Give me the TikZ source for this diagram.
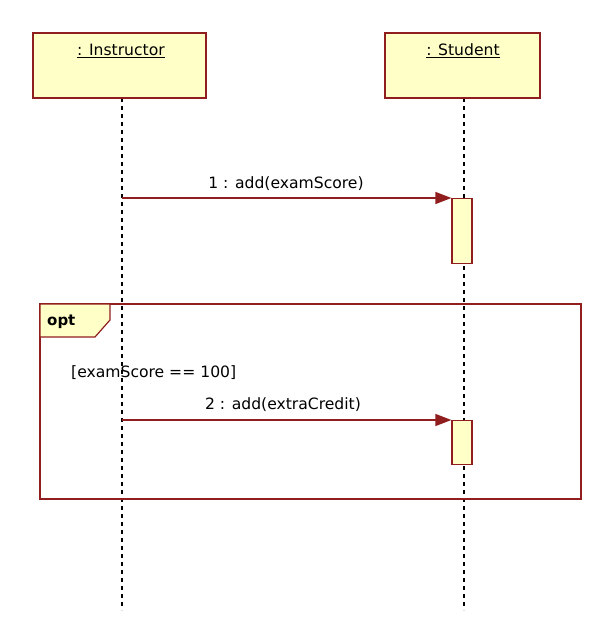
\documentclass[tikz,border=0pt]{standalone}
\usepackage{fontspec}
\setmainfont{DejaVu Sans}
\usetikzlibrary{arrows.meta}
\definecolor{umlred}{RGB}{145,30,30}
\definecolor{umlfill}{RGB}{255,255,200}
\tikzset{
  objbox/.style={draw=umlred, fill=umlfill, line width=1.2pt},
  act/.style={draw=umlred, fill=umlfill, line width=1.2pt},
  life/.style={line width=1.3pt, dash pattern=on 4pt off 4pt, black},
  msg/.style={draw=umlred, line width=1.2pt, -{Triangle[length=16pt,width=12pt]}},
  lbl/.style={font=\fontsize{15.6}{18}\selectfont, inner sep=0pt},
  frame/.style={draw=umlred, line width=1.2pt}
}
\begin{document}
\begin{tikzpicture}[x=1pt,y=-1pt]
\useasboundingbox (0,0) rectangle (614,642);
% lifelines
\coordinate (iend) at (122,610);
\coordinate (send) at (464,610);
\draw[life] (122,98) -- (iend);
\draw[life] (464,98) -- (send);
% objects
\draw[objbox] (33,33) rectangle (206,98);
\node[lbl] (inst) at (121,51) {\underline{: Instructor}};
\draw[objbox] (385,33) rectangle (540,98);
\node[lbl] (stud) at (463,51) {\underline{: Student}};
% opt frame
\draw[frame] (40,304) rectangle (581,499);
\draw[frame, fill=umlfill] (40,304) -- (110,304) -- (110,320) -- (95,337) -- (40,337) -- cycle;
\node[font=\fontsize{15}{18}\selectfont\bfseries, inner sep=0pt, anchor=west] (opt) at (47,322) {opt};
\node[lbl, anchor=west] (guard) at (71,373) {[examScore == 100]};
% activations
\node[act, minimum width=20pt, minimum height=65pt, inner sep=0pt, anchor=north] (a1) at (462,198) {};
\node[act, minimum width=20pt, minimum height=44pt, inner sep=0pt, anchor=north] (a2) at (462,420) {};
\coordinate (s1) at (122,198);
\coordinate (s2) at (122,420);
\draw[msg] (s1) -- (a1.north west);
\draw[msg] (s2) -- (a2.north west);
\node[lbl] (m1) at (286,184) {1 : add(examScore)};
\node[lbl] (m2) at (283,405) {2 : add(extraCredit)};
\end{tikzpicture}
\end{document}
